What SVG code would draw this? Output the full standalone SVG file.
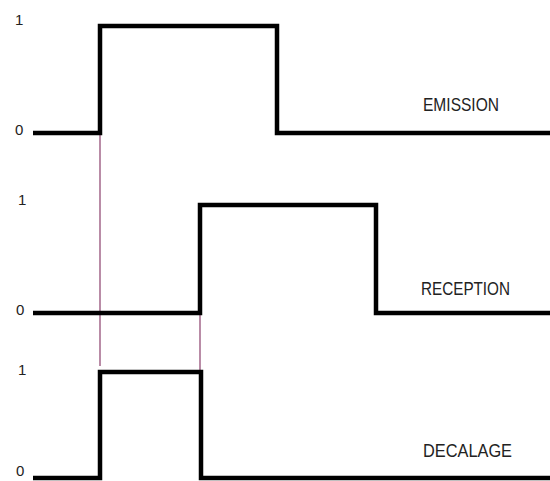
<svg xmlns="http://www.w3.org/2000/svg" width="550" height="481" viewBox="0 0 550 481">
<style>
.sig{fill:none;stroke:#000;stroke-width:4.5;stroke-linejoin:miter;stroke-linecap:butt}
.mark{stroke:#8a3f6c;stroke-width:1.2;fill:none}
.lv{font-family:"Liberation Sans",Arial,sans-serif;font-size:15px;fill:#222}
.lbl{font-family:"Liberation Sans",Arial,sans-serif;font-size:17.5px;fill:#222}
</style>
<rect width="550" height="481" fill="#fff"/>
<g id="connectors">
<line class="mark" x1="100" y1="135" x2="100" y2="366"/>
<line class="mark" x1="200" y1="313" x2="200" y2="372"/>
</g>
<g id="emission">
<path class="sig" d="M33,133 H100 V26 H277 V133 H550"/>
<text class="lv" x="15" y="25">1</text>
<text class="lv" x="15" y="135">0</text>
<text class="lbl" x="423" y="111" textLength="76" lengthAdjust="spacingAndGlyphs">EMISSION</text>
</g>
<g id="reception">
<path class="sig" d="M33,313 H200 V205 H376 V313 H550"/>
<text class="lv" x="18" y="205">1</text>
<text class="lv" x="16" y="315">0</text>
<text class="lbl" x="421" y="295" textLength="89" lengthAdjust="spacingAndGlyphs">RECEPTION</text>
</g>
<g id="decalage">
<path class="sig" d="M33,478 H100 V372 H201 V478 H550"/>
<text class="lv" x="18" y="375">1</text>
<text class="lv" x="16" y="476">0</text>
<text class="lbl" x="423" y="457" textLength="89" lengthAdjust="spacingAndGlyphs">DECALAGE</text>
</g>
</svg>
